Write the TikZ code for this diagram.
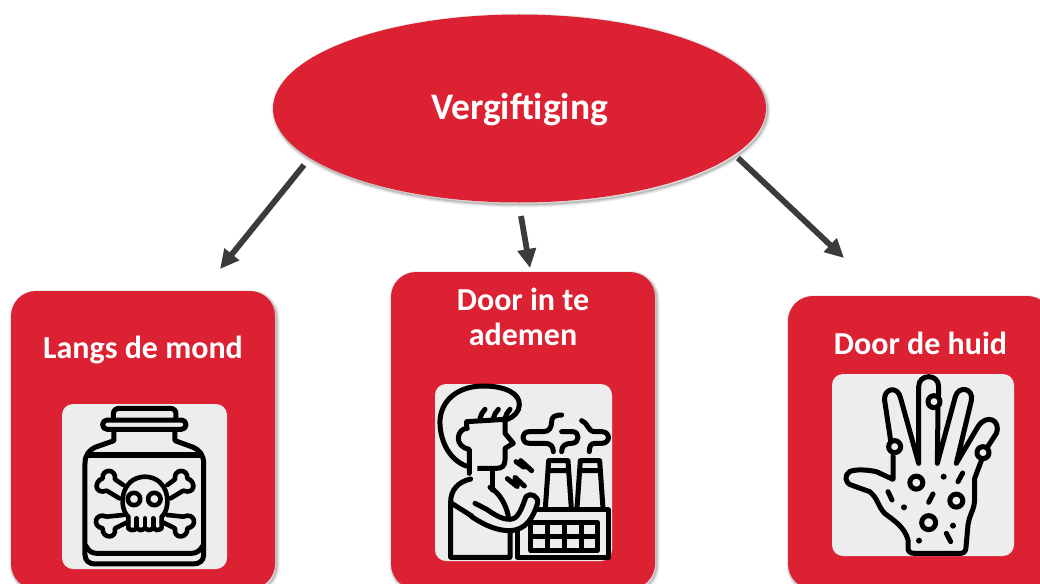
\documentclass[tikz,border=0pt]{standalone}
\usepackage{fontspec}
\setmainfont{Carlito}
\usetikzlibrary{shapes.geometric,arrows.meta}
\definecolor{redbox}{HTML}{DC2132}
\definecolor{graybox}{HTML}{EDEDED}
\definecolor{arrowgray}{HTML}{3B3B3B}
\tikzset{
  redcard/.style={fill=redbox,rounded corners=25pt},
  softa/.style={draw=black,draw opacity=0.07,line width=6pt,rounded corners=25pt},
  softb/.style={draw=black,draw opacity=0.09,line width=3.5pt,rounded corners=25pt},
  softc/.style={draw=black,draw opacity=0.12,line width=1.5pt,rounded corners=25pt},
  graycard/.style={fill=graybox,rounded corners=11pt},
  label/.style={text=white,font=\bfseries\fontsize{32}{35}\selectfont,align=center,inner sep=0pt},
  conn/.style={draw=arrowgray,line width=5.8pt,-{Triangle[length=19pt,width=18pt]}},
  icon/.style={draw=black,line width=5pt,line cap=round,line join=round},
  iconthin/.style={draw=black,line width=4.6pt,line cap=round,line join=round}
}
\begin{document}
\begin{tikzpicture}[x=1pt,y=-1pt]
\useasboundingbox (0,0) rectangle (1040,583);
\clip (0,0) rectangle (1040,583);
\fill[white] (0,0) rectangle (1040,583);

% soft shadows
\begin{scope}[shift={(1.5,2)}]
\foreach \st in {softa,softb,softc}{
  \draw[\st] (519.5,108.5) ellipse (246.5pt and 94pt);
  \draw[\st] (11,291) rectangle (275,589);
  \draw[\st] (391,272) rectangle (655,589);
  \draw[\st] (788,296) rectangle (1052,589);
}
\end{scope}

\node[ellipse,fill=redbox,minimum width=493pt,minimum height=188pt,inner sep=0pt] (top) at (519.5,108.5) {};
\node[label,font=\bfseries\fontsize{37.5}{42}\selectfont] (toplabel) at (519.5,110) {Vergiftiging};

\fill[redcard] (11,291) rectangle (275,589);
\fill[redcard] (391,272) rectangle (655,589);
\fill[redcard] (788,296) rectangle (1052,589);
\fill[graycard] (62,404) rectangle (227,569);
\fill[graycard] (435,384) rectangle (612,561);
\fill[graycard] (832,374) rectangle (1014,556);

\node[label] (a) at (143,350) {Langs de mond};
\node[label,align=center] (b) at (523,316.5) {Door in te\\ademen};
\node[label] (c) at (920.5,343) {Door de huid};

\coordinate (s1) at (304,165); \coordinate (e1) at (220,269);
\coordinate (s2) at (521,216); \coordinate (e2) at (530,268);
\coordinate (s3) at (738,158); \coordinate (e3) at (844,258);
\draw[conn] (s1) -- (e1);
\draw[conn] (s2) -- (e2);
\draw[conn] (s3) -- (e3);

% poison jar
\begin{scope}[shift={(60,400)},x=0.3333pt,y=-0.3333pt,icon]
\draw (160,58) -- (160,42) .. controls (160,30) and (168,25) .. (180,25) -- (330,25) .. controls (342,25) and (348,32) .. (348,42) -- (348,58);
\draw[rounded corners=4.5pt] (128,60) rectangle (378,88);
\draw (162,90) -- (162,122) -- (105,142) .. controls (88,150) and (75,165) .. (75,190) -- (75,465) .. controls (75,482) and (88,492) .. (105,492) -- (400,492) .. controls (418,492) and (431,482) .. (431,465) -- (431,190) .. controls (431,165) and (418,150) .. (400,142) -- (345,122) -- (345,90);
\draw (85,165) -- (422,165);
\draw (78,438) .. controls (85,452) and (95,460) .. (110,460) -- (395,460) .. controls (410,460) and (420,452) .. (428,438);
\draw[iconthin] (205,385) -- (205,350) .. controls (175,325) and (180,232) .. (255,230) .. controls (330,232) and (335,325) .. (305,350) -- (305,385) .. controls (295,392) and (285,392) .. (280,385) .. controls (270,392) and (260,392) .. (255,385) .. controls (245,392) and (235,392) .. (230,385) .. controls (222,392) and (212,392) .. (205,385);
\draw[iconthin] (230,355) -- (230,385) (255,355) -- (255,385) (280,355) -- (280,385);
\draw[iconthin] (222,297) circle (6.2pt) (283,297) circle (6.2pt);
\draw[iconthin] (190,255) -- (165,238) .. controls (170,205) and (125,205) .. (128,235) .. controls (100,245) and (105,285) .. (140,272) -- (178,295);
\draw[iconthin] (322,255) -- (345,238) .. controls (340,205) and (385,205) .. (382,235) .. controls (410,245) and (405,285) .. (370,272) -- (332,295);
\draw[iconthin] (190,345) -- (140,350) .. controls (105,335) and (95,380) .. (128,385) .. controls (125,415) and (170,420) .. (165,385) -- (205,365);
\draw[iconthin] (322,345) -- (370,350) .. controls (405,335) and (415,380) .. (382,385) .. controls (385,415) and (340,420) .. (345,385) -- (305,365);
\end{scope}

% person and factory
\begin{scope}[shift={(430,380)},x=0.3333pt,y=-0.3333pt,icon]
\draw (108,258) .. controls (50,235) and (28,170) .. (30,120) .. controls (35,55) and (90,18) .. (160,18) .. controls (225,18) and (270,40) .. (268,75) .. controls (268,95) and (250,112) .. (232,118);
\draw (150,115) .. controls (152,105) and (158,95) .. (165,88) (190,115) .. controls (192,105) and (198,95) .. (205,88) (225,115) .. controls (227,105) and (233,95) .. (240,88);
\draw[line cap=butt] (110,145) -- (110,125) -- (225,118) -- (225,160) -- (250,190) -- (225,205) -- (225,240) .. controls (225,258) and (215,265) .. (200,265) -- (142,265);
\draw (112,145) .. controls (80,145) and (70,200) .. (118,208) -- (118,280);
\draw (187,268) -- (187,330);
\draw (122,297) .. controls (85,305) and (62,330) .. (62,365) -- (62,532) -- (240,532) -- (240,455);
\draw (180,322) .. controls (210,340) and (228,375) .. (235,408);
\draw (62,368) -- (125,408);
\draw (135,370) -- (170,388) .. controls (195,405) and (215,418) .. (240,418) .. controls (265,418) and (275,385) .. (288,350) .. controls (300,335) and (330,350) .. (322,372) .. controls (310,410) and (290,450) .. (240,452) .. controls (205,452) and (170,440) .. (125,410);
\draw (262,450) -- (262,532) -- (535,532) -- (535,390) -- (322,390);
\draw (303,428) rectangle (502,512);
\draw (303,470) -- (502,470) (354,428) -- (354,512) (404,428) -- (404,512) (454,428) -- (454,512);
\draw (346,385) -- (356,242) -- (414,242) -- (424,385) (358,272) -- (412,272);
\draw (441,385) -- (451,242) -- (509,242) -- (519,385) (453,272) -- (507,272);
\draw (395,105) .. controls (372,105) and (365,112) .. (365,125) .. controls (365,142) and (358,155) .. (340,155) -- (298,155) .. controls (272,155) and (272,190) .. (298,190) -- (345,190) .. controls (362,190) and (370,200) .. (370,215);
\draw (395,155) -- (428,155) .. controls (450,155) and (450,190) .. (425,190) .. controls (405,190) and (395,198) .. (395,215);
\draw (455,122) .. controls (475,128) and (472,155) .. (495,155) -- (515,155) .. controls (542,155) and (542,190) .. (515,190) -- (495,190) .. controls (482,190) and (478,200) .. (478,215);
\draw (258,245) -- (282,262) -- (272,242) -- (305,272);
\draw (232,296) -- (262,320) -- (255,292) -- (283,318);
\end{scope}

% hand
\begin{scope}[shift={(828,370)},x=0.3333pt,y=-0.3333pt,icon]
\draw (195,258) -- (195,328) -- (145,305) .. controls (110,298) and (80,298) .. (65,305) .. controls (48,315) and (50,340) .. (72,346) -- (125,365) .. controls (150,385) and (150,410) .. (170,430) .. controls (195,450) and (230,470) .. (240,510) -- (240,535) .. controls (240,545) and (248,550) .. (258,550) -- (398,550) .. controls (408,550) and (414,543) .. (414,532) -- (420,465) .. controls (425,430) and (440,420) .. (440,385) -- (440,325) -- (460,272);
\draw (188,212) -- (170,92) .. controls (165,55) and (210,45) .. (218,85) -- (272,280) -- (272,50) .. controls (272,10) and (332,10) .. (332,50) -- (332,75);
\draw (330,115) -- (328,280) -- (382,80) .. controls (392,45) and (438,55) .. (430,92) -- (385,280) -- (450,170) .. controls (475,130) and (520,150) .. (505,190) -- (478,232);
\draw (200,230) circle (6pt) (318,95) circle (6pt) (465,248) circle (6pt);
\draw (265,338) circle (6.5pt) (385,392) circle (6.5pt) (302,458) circle (7pt);
\fill[black] (347,320) circle (3pt) (228,412) circle (3pt) (375,467) circle (3pt) (273,512) circle (3pt);
\draw[line width=5pt] (180,365) -- (192,390) (404,309) -- (390,335) (315,372) -- (302,397) (355,490) -- (368,515);
\end{scope}
\end{tikzpicture}
\end{document}
